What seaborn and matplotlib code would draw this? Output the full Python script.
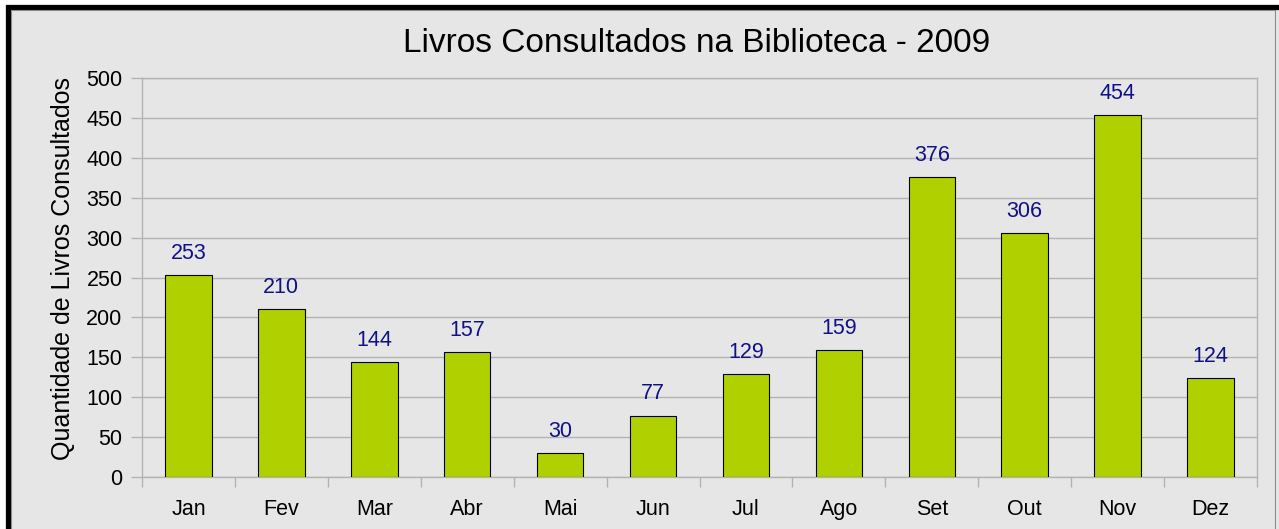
import matplotlib
matplotlib.use("Agg")
import matplotlib.pyplot as plt
import seaborn as sns
import pandas as pd
from matplotlib.patches import Rectangle
from matplotlib.ticker import FixedLocator

meses = ["Jan", "Fev", "Mar", "Abr", "Mai", "Jun", "Jul", "Ago", "Set", "Out", "Nov", "Dez"]
valores = [253, 210, 144, 157, 30, 77, 129, 159, 376, 306, 454, 124]
titulo = "Livros Consultados na Biblioteca - 2009"
rotulo_y = "Quantidade de Livros Consultados"
yticks = [0, 50, 100, 150, 200, 250, 300, 350, 400, 450, 500]

sns.set_theme(style="white")
plt.rcParams['font.family'] = ['Liberation Sans', 'DejaVu Sans']

BG = "#e6e6e6"
GRID = "#b3b3b3"

fig = plt.figure(figsize=(12.79, 5.29), dpi=100, facecolor="white")
# frame: gray background with black border
fig.patches.append(Rectangle((7.5 / 1279, -0.05), (1277.5 - 7.5) / 1279 + 0.01, 1 - 6.5 / 529 + 0.05,
                             transform=fig.transFigure, facecolor=BG, edgecolor="black",
                             linewidth=3.8, zorder=-10))
fig.patches.append(Rectangle((10.5 / 1279, -0.05), (1274.5 - 10.5) / 1279, 1 - 9.5 / 529 + 0.05,
                             transform=fig.transFigure, facecolor="none", edgecolor="#8c8c8c",
                             linewidth=0.8, zorder=-9))

ax = fig.add_axes([142 / 1279, 1 - 477 / 529, (1257 - 142) / 1279, (477 - 78) / 529])
ax.set_zorder(1)
ax.set_facecolor(BG)

df = pd.DataFrame({"mes": meses, "valor": valores})
sns.barplot(data=df, x="mes", y="valor", color="#b0d000", saturation=1, width=0.5,
            edgecolor="black", linewidth=0.8, ax=ax, zorder=3)

ax.set_xlim(-0.5, len(meses) - 0.5)
ax.set_ylim(0, 500)
ax.set_yticks(yticks)
ax.yaxis.grid(True, color=GRID, linewidth=1, zorder=0)
ax.set_axisbelow(True)
for s in ax.spines.values():
    s.set_color(GRID)
    s.set_linewidth(1)

ax.xaxis.set_minor_locator(FixedLocator([i - 0.5 for i in range(len(meses) + 1)]))
ax.tick_params(axis="x", which="major", length=0, pad=16, labelsize=15.5, colors="black")
ax.tick_params(axis="x", which="minor", length=7.5, width=1, color=GRID, direction="out", bottom=True)
ax.tick_params(axis="y", which="major", length=8, width=1, color=GRID, pad=6, labelsize=15.5,
               left=True, labelcolor="black")

ax.set_xlabel("")
ax.set_ylabel(rotulo_y, fontsize=18, color="black")
ax.yaxis.set_label_coords(-0.0605, 0.5226)
ax.set_title(titulo, fontsize=24, color="black", pad=19, x=0.497)

for c in ax.containers:
    ax.bar_label(c, labels=[str(v) for v in valores], padding=8, fontsize=15.5, color="#101088")

fig.savefig("out.png", dpi=100, facecolor=fig.get_facecolor())
